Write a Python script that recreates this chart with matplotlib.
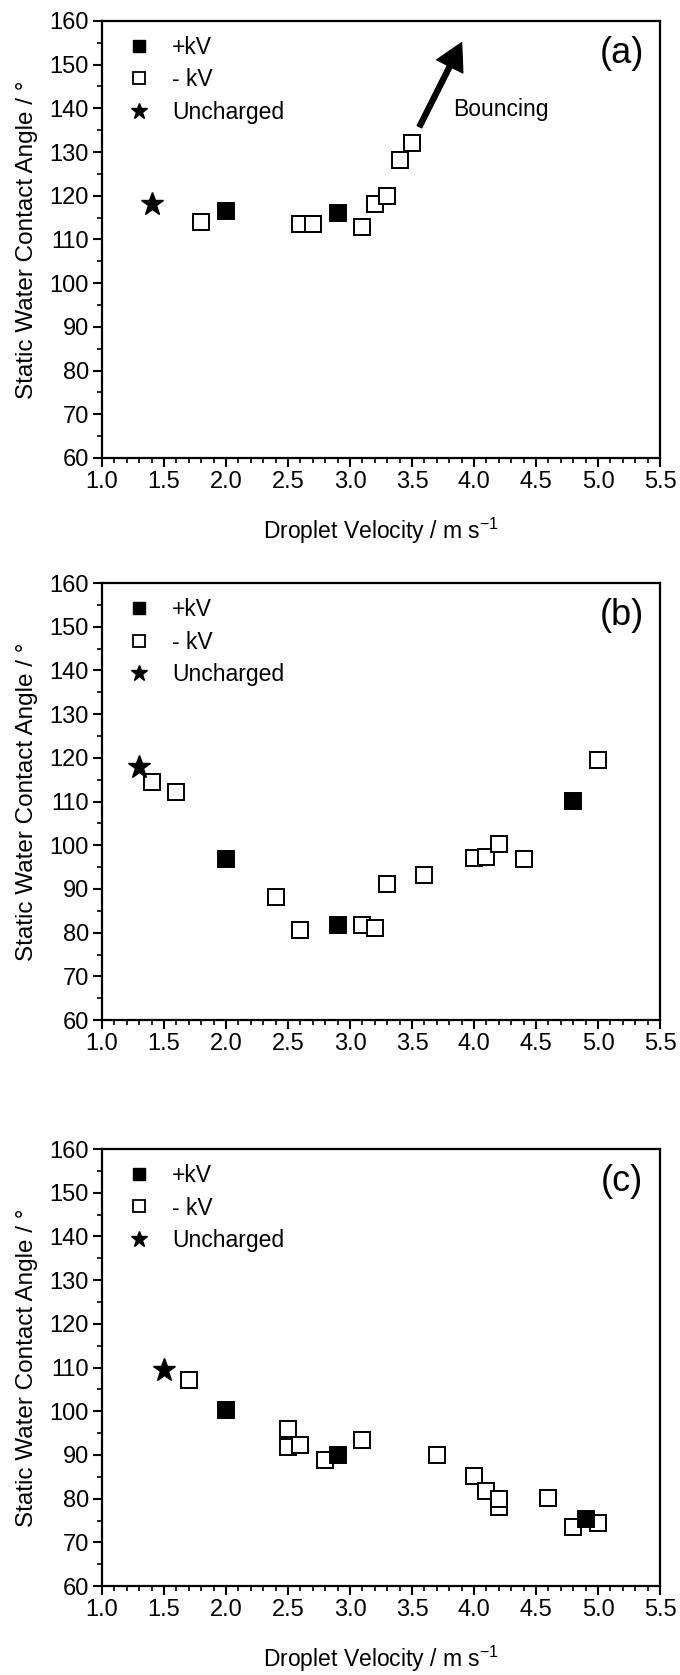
import matplotlib
matplotlib.use('Agg')
import matplotlib.pyplot as plt
from matplotlib.ticker import MultipleLocator
from matplotlib.lines import Line2D

plt.rcParams['font.family'] = ['Liberation Sans', 'DejaVu Sans']
plt.rcParams['mathtext.fontset'] = 'custom'
plt.rcParams['mathtext.rm'] = 'Liberation Sans'

# (a)
a_pos_v = [2.0, 2.9]
a_pos_y = [116.4, 116.0]
a_neg_v = [1.8, 2.6, 2.7, 3.1, 3.2, 3.3, 3.4, 3.5]
a_neg_y = [113.9, 113.5, 113.5, 112.9, 118.0, 120.0, 128.1, 132.0]
a_unc_v = [1.4]
a_unc_y = [118.0]

# (b)
b_pos_v = [2.0, 2.9, 4.8]
b_pos_y = [96.9, 81.7, 110.1]
b_neg_v = [1.4, 1.6, 2.4, 2.6, 3.1, 3.2, 3.3, 3.6, 4.0, 4.1, 4.2, 4.4, 5.0]
b_neg_y = [114.5, 112.1, 88.2, 80.6, 81.7, 81.1, 91.1, 93.1, 97.0, 97.3, 100.4, 96.9, 119.4]
b_unc_v = [1.3]
b_unc_y = [118.0]

# (c)
c_pos_v = [2.0, 2.9, 4.9]
c_pos_y = [100.2, 89.9, 75.3]
c_neg_v = [1.7, 2.5, 2.5, 2.6, 2.8, 3.1, 3.7, 4.0, 4.1, 4.2, 4.2, 4.6, 4.8, 5.0]
c_neg_y = [107.1, 95.9, 91.9, 92.3, 88.8, 93.4, 90.1, 85.1, 81.7, 78.2, 79.9, 80.2, 73.4, 74.4]
c_unc_v = [1.5]
c_unc_y = [109.4]

legend_labels = ['+kV', '- kV', 'Uncharged']
panels = [
    ('(a)', a_pos_v, a_pos_y, a_neg_v, a_neg_y, a_unc_v, a_unc_y, True),
    ('(b)', b_pos_v, b_pos_y, b_neg_v, b_neg_y, b_unc_v, b_unc_y, False),
    ('(c)', c_pos_v, c_pos_y, c_neg_v, c_neg_y, c_unc_v, c_unc_y, True),
]
bottoms = [0.7266, 0.3910, 0.0531]

fig = plt.figure(figsize=(6.8, 16.75), dpi=100)

fs = 16.5
for (tag, pv, py, nv, ny, uv, uy, xlab), b in zip(panels, bottoms):
    ax = fig.add_axes([0.15, b, 0.8206, 0.2609])
    ax.plot(nv, ny, 's', ms=11, mfc='white', mec='black', mew=1.4, ls='none')
    ax.plot(pv, py, 's', ms=11, mfc='black', mec='black', mew=1.4, ls='none')
    ax.plot(uv, uy, '*', ms=17, color='black', ls='none')

    ax.set_xlim(1.0, 5.5)
    ax.set_ylim(60, 160)
    ax.xaxis.set_major_locator(MultipleLocator(0.5))
    ax.xaxis.set_minor_locator(MultipleLocator(0.1))
    ax.yaxis.set_major_locator(MultipleLocator(10))
    ax.yaxis.set_minor_locator(MultipleLocator(5))
    ax.xaxis.set_major_formatter(plt.FormatStrFormatter('%.1f'))
    ax.tick_params(which='major', direction='out', length=6.5, width=1.5,
                   labelsize=17, pad=3, top=False, right=False)
    ax.tick_params(which='minor', direction='out', length=3.5, width=1.2,
                   top=False, right=False)
    for sp in ax.spines.values():
        sp.set_linewidth(1.6)

    ax.set_ylabel('Static Water Contact Angle / \u00b0', fontsize=17.5, labelpad=8)
    if xlab:
        ax.set_xlabel(r'Droplet Velocity / m s$^{\mathregular{-1}}$', fontsize=fs, labelpad=16)

    handles = [
        Line2D([], [], marker='s', ls='none', ms=8, mfc='black', mec='black'),
        Line2D([], [], marker='s', ls='none', ms=8, mfc='white', mec='black', mew=1.3),
        Line2D([], [], marker='*', ls='none', ms=12, color='black'),
    ]
    ax.legend(handles, legend_labels, loc='upper left', bbox_to_anchor=(0.045, 0.965),
              borderaxespad=0, borderpad=0, frameon=False, handlelength=1.0,
              handletextpad=0.95, labelspacing=0.4, fontsize=fs)

    ax.text(5.19, 152.5, tag, fontsize=26, ha='center', va='center')

    if tag == '(a)':
        ax.annotate('', xy=(3.9, 155.0), xytext=(3.56, 135.8),
                    arrowprops=dict(width=3.6, headwidth=21, headlength=19,
                                    color='black', shrink=0))
        ax.text(3.83, 139.7, 'Bouncing', fontsize=fs, ha='left', va='center')

fig.savefig('out.png', dpi=100)
